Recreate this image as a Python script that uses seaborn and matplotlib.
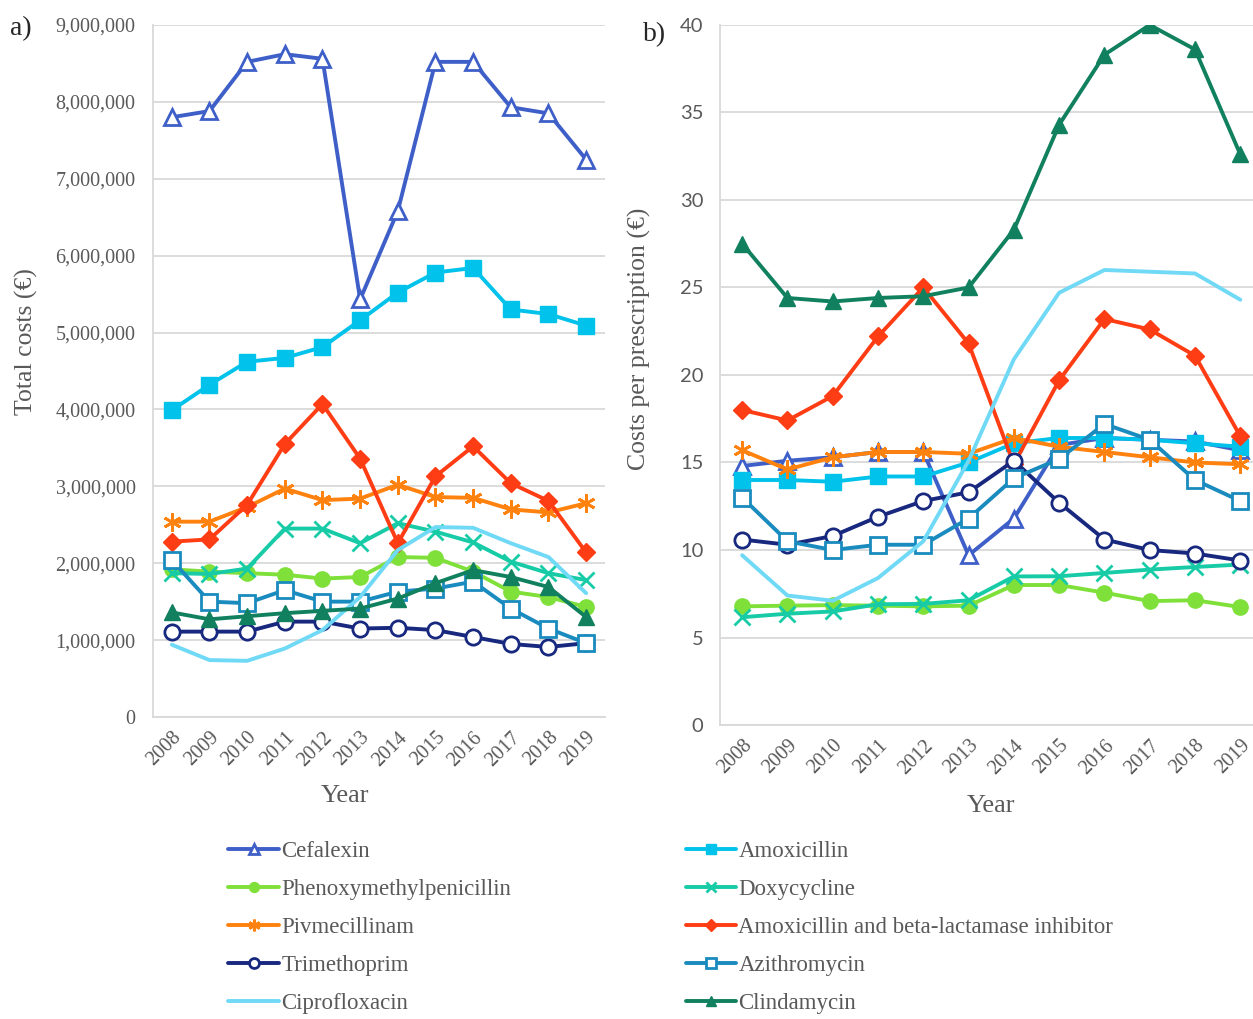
import numpy as np
import pandas as pd
import matplotlib.pyplot as plt
import seaborn as sns
from matplotlib.ticker import FuncFormatter

years = list(range(2008, 2020))

# a) total costs (EUR)
total_cefalexin = [7.80e6, 7.88e6, 8.52e6, 8.62e6, 8.56e6, 5.43e6, 6.58e6, 8.52e6, 8.52e6, 7.93e6, 7.85e6, 7.25e6]
total_amoxicillin = [3.99e6, 4.32e6, 4.62e6, 4.67e6, 4.81e6, 5.16e6, 5.52e6, 5.78e6, 5.84e6, 5.30e6, 5.24e6, 5.09e6]
total_phenoxy = [1.92e6, 1.89e6, 1.87e6, 1.85e6, 1.80e6, 1.82e6, 2.08e6, 2.07e6, 1.89e6, 1.63e6, 1.56e6, 1.43e6]
total_doxy = [1.87e6, 1.86e6, 1.93e6, 2.45e6, 2.45e6, 2.26e6, 2.52e6, 2.41e6, 2.27e6, 2.02e6, 1.87e6, 1.78e6]
total_pivmec = [2.54e6, 2.54e6, 2.73e6, 2.97e6, 2.82e6, 2.84e6, 3.02e6, 2.86e6, 2.85e6, 2.70e6, 2.66e6, 2.78e6]
total_amox_bli = [2.28e6, 2.31e6, 2.76e6, 3.55e6, 4.07e6, 3.36e6, 2.26e6, 3.13e6, 3.52e6, 3.04e6, 2.81e6, 2.14e6]
total_trimeth = [1.11e6, 1.11e6, 1.11e6, 1.24e6, 1.24e6, 1.15e6, 1.16e6, 1.13e6, 1.04e6, 0.95e6, 0.91e6, 0.96e6]
total_azithro = [2.04e6, 1.50e6, 1.48e6, 1.65e6, 1.50e6, 1.50e6, 1.63e6, 1.67e6, 1.76e6, 1.41e6, 1.15e6, 0.96e6]
total_cipro = [0.94e6, 0.74e6, 0.73e6, 0.89e6, 1.13e6, 1.56e6, 2.17e6, 2.47e6, 2.46e6, 2.26e6, 2.08e6, 1.61e6]
total_clinda = [1.36e6, 1.27e6, 1.31e6, 1.35e6, 1.38e6, 1.41e6, 1.54e6, 1.74e6, 1.91e6, 1.82e6, 1.69e6, 1.30e6]

# b) costs per prescription (EUR)
pp_cefalexin = [14.8, 15.1, 15.3, 15.6, 15.6, 9.7, 11.8, 16.0, 16.4, 16.3, 16.2, 15.7]
pp_amoxicillin = [14.0, 14.0, 13.9, 14.2, 14.2, 15.0, 16.1, 16.4, 16.4, 16.3, 16.1, 15.9]
pp_phenoxy = [6.78, 6.82, 6.85, 6.82, 6.78, 6.82, 8.0, 8.0, 7.56, 7.08, 7.13, 6.74]
pp_doxy = [6.16, 6.36, 6.49, 6.90, 6.92, 7.13, 8.49, 8.5, 8.69, 8.88, 9.03, 9.17]
pp_pivmec = [15.7, 14.6, 15.3, 15.6, 15.6, 15.5, 16.4, 15.9, 15.6, 15.3, 15.0, 14.9]
pp_amox_bli = [18.0, 17.4, 18.8, 22.2, 25.0, 21.8, 14.9, 19.7, 23.2, 22.6, 21.1, 16.5]
pp_trimeth = [10.6, 10.3, 10.8, 11.9, 12.8, 13.3, 15.1, 12.7, 10.6, 10.0, 9.8, 9.4]
pp_azithro = [13.0, 10.5, 10.0, 10.3, 10.3, 11.8, 14.1, 15.2, 17.2, 16.3, 14.0, 12.8]
pp_cipro = [9.7, 7.4, 7.1, 8.4, 10.5, 15.1, 20.9, 24.7, 26.0, 25.9, 25.8, 24.3]
pp_clinda = [27.5, 24.4, 24.2, 24.4, 24.5, 25.0, 28.3, 34.3, 38.3, 40.0, 38.6, 32.6]

names = ["Cefalexin", "Amoxicillin", "Phenoxymethylpenicillin", "Doxycycline",
         "Pivmecillinam", "Amoxicillin and beta-lactamase inhibitor", "Trimethoprim",
         "Azithromycin", "Ciprofloxacin", "Clindamycin"]
total_data = [total_cefalexin, total_amoxicillin, total_phenoxy, total_doxy, total_pivmec,
              total_amox_bli, total_trimeth, total_azithro, total_cipro, total_clinda]
pp_data = [pp_cefalexin, pp_amoxicillin, pp_phenoxy, pp_doxy, pp_pivmec,
           pp_amox_bli, pp_trimeth, pp_azithro, pp_cipro, pp_clinda]

# style per series: color, marker, filled
styles = {
    "Cefalexin": ("#3F5FC8", "^", False),
    "Amoxicillin": ("#00C2EA", "s", True),
    "Phenoxymethylpenicillin": ("#7FE03A", "o", True),
    "Doxycycline": ("#17CBA6", "x", True),
    "Pivmecillinam": ("#FF820F", (6, 2, 0), True),
    "Amoxicillin and beta-lactamase inhibitor": ("#FF3D14", "D", True),
    "Trimethoprim": ("#17287E", "o", False),
    "Azithromycin": ("#1A8BBE", "s", False),
    "Ciprofloxacin": ("#6FD9F6", None, True),
    "Clindamycin": ("#11805F", "^", True),
}

sns.set_style("white")
serif = "Liberation Serif"
gray = "#595959"

fig = plt.figure(figsize=(12.53, 10.19), dpi=100)
ax1 = fig.add_axes([0.1221, 0.2964, 0.3607, 0.6791])
ax2 = fig.add_axes([0.5746, 0.2885, 0.4254, 0.6870])


def draw(ax, data):
    for name, vals in zip(names, data):
        color, marker, filled = styles[name]
        kw = dict(color=color, linewidth=2.8)
        if marker is not None:
            size = {"D": 9, "x": 12, (6, 2, 0): 13}.get(marker, 11)
            kw.update(marker=marker, markersize=size,
                      markerfacecolor=color if filled else "white",
                      markeredgecolor=color,
                      markeredgewidth=2.0 if marker in ("x", (6, 2, 0)) or not filled else 1.0)
        sns.lineplot(x=years, y=vals, ax=ax, errorbar=None, **kw)


draw(ax1, total_data)
draw(ax2, pp_data)

for ax in (ax1, ax2):
    ax.set_xticks(years)
    ax.set_xticklabels([str(y) for y in years], rotation=45, ha="right",
                       rotation_mode="anchor", fontsize=14.5, family=serif, color=gray)
    ax.grid(axis="y", color="#D9D9D9", linewidth=1.3)
    ax.set_axisbelow(True)
    for s in ("top", "right"):
        ax.spines[s].set_visible(False)
    for s in ("left", "bottom"):
        ax.spines[s].set_color("#D9D9D9")
        ax.spines[s].set_linewidth(1.3)
    ax.tick_params(axis="x", length=0, pad=8)
    ax.set_xlabel("Year", fontsize=19, family=serif, color=gray, labelpad=10)

ax1.set_xlim(2007.5, 2019.5)
ax1.set_ylim(0, 9e6)
ax1.set_yticks(np.arange(0, 9.1e6, 1e6))
ax1.yaxis.set_major_formatter(FuncFormatter(lambda v, p: f"{int(v):,}"))
ax1.tick_params(axis="y", length=0, pad=12.5)
for t in ax1.get_yticklabels():
    t.set_fontsize(14.5)
    t.set_family(serif)
    t.set_color(gray)
ax1.set_ylabel("Total costs (€)", fontsize=18.5, family=serif, color=gray)
ax1.yaxis.set_label_coords(-0.255, 0.542)
ax1.xaxis.set_label_coords(0.425, -0.098)

ax2.set_xlim(2007.51, 2019.28)
ax2.set_ylim(0, 40)
ax2.set_yticks(range(0, 41, 5))
ax2.tick_params(axis="y", length=0, pad=12)
for t in ax2.get_yticklabels():
    t.set_fontsize(14.5)
    t.set_family("Lato")
    t.set_color(gray)
ax2.set_ylabel("Costs per prescription (€)", fontsize=18.5, family=serif, color=gray)
ax2.yaxis.set_label_coords(-0.13, 0.551)
ax2.xaxis.set_label_coords(0.508, -0.10)

fig.text(0.008, 0.972, "a)", fontsize=20, family=serif, va="center")
fig.text(0.513, 0.966, "b)", fontsize=20, family=serif, va="center")

# legend: two columns placed by hand
lines = ax1.get_lines()
handles = {name: ln for name, ln in zip(names, lines)}
left_col = names[0::2]
right_col = names[1::2]
leg_kw = dict(frameon=False, handlelength=2.2, handletextpad=0.1,
              labelspacing=0.74, labelcolor=gray, prop={"family": serif, "size": 16.5},
              markerscale=0.65, borderaxespad=0)
fig.legend([handles[n] for n in left_col], left_col, loc="upper left",
           bbox_to_anchor=(0.175, 0.184), **leg_kw)
fig.legend([handles[n] for n in right_col], right_col, loc="upper left",
           bbox_to_anchor=(0.540, 0.184), **leg_kw)

fig.savefig("out.png", dpi=100)
